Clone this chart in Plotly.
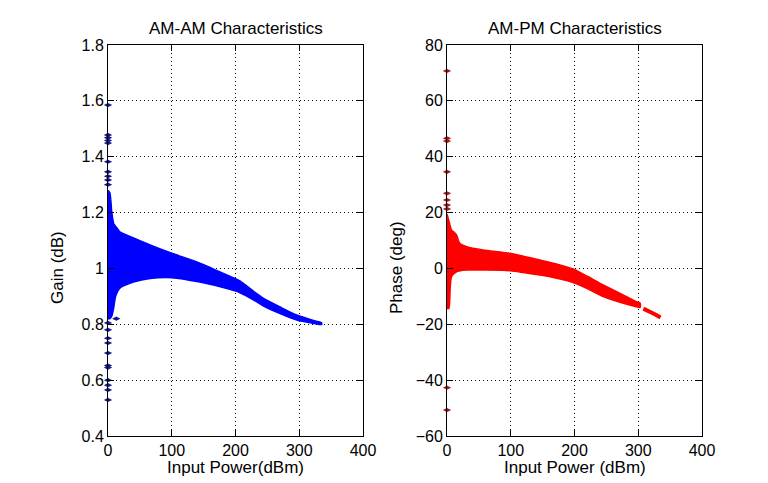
import plotly.graph_objects as go

# ---------------- data ----------------
# AM-AM cloud envelope
am_x_upper = [0, 3, 6, 9, 14, 19, 40, 66, 99, 144, 191, 207, 230, 244, 270, 296, 325, 335]
am_y_upper = [1.28, 1.27, 1.20, 1.16, 1.145, 1.13, 1.109, 1.084, 1.055, 1.019, 0.972, 0.955, 0.915, 0.893, 0.862, 0.833, 0.812, 0.806]
am_x_lower = [0, 3, 6, 9, 12, 19, 40, 66, 100, 144, 191, 207, 230, 244, 270, 296, 325, 335]
am_y_lower = [0.82, 0.82, 0.83, 0.86, 0.90, 0.93, 0.951, 0.964, 0.967, 0.951, 0.925, 0.913, 0.885, 0.865, 0.838, 0.815, 0.802, 0.799]
# AM-AM isolated points
am_out_x = [0, 0, 0, 0, 0, 0, 0, 0, 0, 0, 13, 0, 0, 0, 0, 0, 0, 0, 0, 0, 0, 0]
am_out_y = [1.585, 1.478, 1.468, 1.458, 1.449, 1.382, 1.346, 1.33, 1.317, 1.30,
            0.82, 0.805, 0.78, 0.75, 0.733, 0.697, 0.652, 0.645, 0.60, 0.582, 0.565, 0.529]

# AM-PM cloud envelope
pm_x_upper = [0, 3, 7, 12, 15, 20, 31, 57, 99, 146, 170, 198, 220, 245, 270, 297, 303]
pm_y_upper = [19.5, 17.0, 13.8, 12.8, 12.0, 9.0, 7.8, 6.6, 5.4, 3.0, 1.7, -0.2, -2.8, -5.9, -8.8, -11.9, -12.4]
pm_x_lower = [0, 3, 5, 7, 15, 31, 57, 99, 146, 170, 193, 220, 245, 270, 297, 303]
pm_y_lower = [-14.3, -14.3, -7.0, -3.0, -1.2, -0.6, -0.6, -0.8, -2.4, -3.4, -4.7, -7.2, -10.1, -12.0, -13.7, -14.0]
pm_tail_x = [308, 318, 326, 335]
pm_tail_y = [-14.4, -15.4, -16.4, -17.6]
# AM-PM isolated points
pm_out_x = [0, 0, 0, 0, 0, 0, 0, 0, 0, 0]
pm_out_y = [70.7, 46.6, 45.6, 34.6, 26.9, 24.5, 22.7, 21.3, -42.7, -50.7]

# axis ticks
am_xticks = [0, 100, 200, 300, 400]
am_yticks = [0.4, 0.6, 0.8, 1.0, 1.2, 1.4, 1.6, 1.8]
am_ytext = ["0.4", "0.6", "0.8", "1", "1.2", "1.4", "1.6", "1.8"]
pm_xticks = [0, 100, 200, 300, 400]
pm_yticks = [-60, -40, -20, 0, 20, 40, 60, 80]

# ---------------- styling ----------------
FONT = "Liberation Sans, Arial, sans-serif"
BLUE = "#0000ff"
DBLUE = "#18188c"
RED = "#ff0000"
DRED = "#b01818"

# page body has an 8px margin; figure is sized to fit the window after it
OFF = 8
W, H = 768 - OFF, 483 - OFF


def fx(px):
    return (px - OFF) / W


def fy(py):
    return (H - (py - OFF)) / H


fig = go.Figure()

# AM-AM cloud
fig.add_trace(go.Scatter(
    x=am_x_upper + am_x_lower[::-1], y=am_y_upper + am_y_lower[::-1],
    mode="lines", fill="toself", fillcolor=BLUE,
    line=dict(color=BLUE, width=1.5, shape="spline", smoothing=0.6),
    xaxis="x", yaxis="y", hoverinfo="skip"))
fig.add_trace(go.Scatter(
    x=am_out_x, y=am_out_y, mode="markers",
    marker=dict(symbol="diamond-wide", size=6, color=DBLUE),
    cliponaxis=False, xaxis="x", yaxis="y"))

# AM-PM cloud
fig.add_trace(go.Scatter(
    x=pm_x_upper + pm_x_lower[::-1], y=pm_y_upper + pm_y_lower[::-1],
    mode="lines", fill="toself", fillcolor=RED,
    line=dict(color=RED, width=1.5, shape="spline", smoothing=0.6),
    xaxis="x2", yaxis="y2", hoverinfo="skip"))
fig.add_trace(go.Scatter(
    x=pm_tail_x, y=pm_tail_y, mode="lines",
    line=dict(color=RED, width=4), xaxis="x2", yaxis="y2"))
fig.add_trace(go.Scatter(
    x=pm_out_x, y=pm_out_y, mode="markers",
    marker=dict(symbol="diamond-wide", size=6, color=DRED),
    cliponaxis=False, xaxis="x2", yaxis="y2"))

axis_common = dict(
    showline=True, linecolor="black", linewidth=1, mirror="ticks",
    ticks="inside", ticklen=6, tickcolor="black", tickwidth=1,
    showgrid=True, gridcolor="black", gridwidth=1, griddash="1px,3px",
    zeroline=False, tickfont=dict(family=FONT, size=16, color="black"),
    fixedrange=True, automargin=False,
)

yd = [fy(436), fy(45)]
fig.update_layout(
    width=W, height=H, autosize=False,
    margin=dict(l=0, r=0, t=0, b=0, autoexpand=False),
    paper_bgcolor="white", plot_bgcolor="white",
    showlegend=False,
    xaxis=dict(domain=[fx(108), fx(363)], range=[0, 400], tickvals=am_xticks,
               anchor="y", **axis_common),
    yaxis=dict(domain=yd, range=[0.4, 1.8], tickvals=am_yticks, ticktext=am_ytext,
               anchor="x", **axis_common),
    xaxis2=dict(domain=[fx(447), fx(702)], range=[0, 400], tickvals=pm_xticks,
                anchor="y2", **axis_common),
    yaxis2=dict(domain=yd, range=[-60, 80], tickvals=pm_yticks,
                anchor="x2", **axis_common),
)

tfont = dict(family=FONT, size=17, color="black")
ann = [
    dict(text="AM-AM Characteristics", x=fx((108 + 363) / 2), y=fy(28)),
    dict(text="AM-PM Characteristics", x=fx((447 + 702) / 2), y=fy(28)),
    dict(text="Input Power(dBm)", x=fx((108 + 363) / 2), y=fy(467)),
    dict(text="Input Power (dBm)", x=fx((447 + 702) / 2), y=fy(467)),
    dict(text="Gain (dB)", x=fx(58), y=fy(268), textangle=-90),
    dict(text="Phase (deg)", x=fx(397), y=fy(268), textangle=-90),
]
for a in ann:
    fig.add_annotation(xref="paper", yref="paper", showarrow=False,
                       xanchor="center", yanchor="middle", font=tfont, **a)

fig.write_html("out.html")
